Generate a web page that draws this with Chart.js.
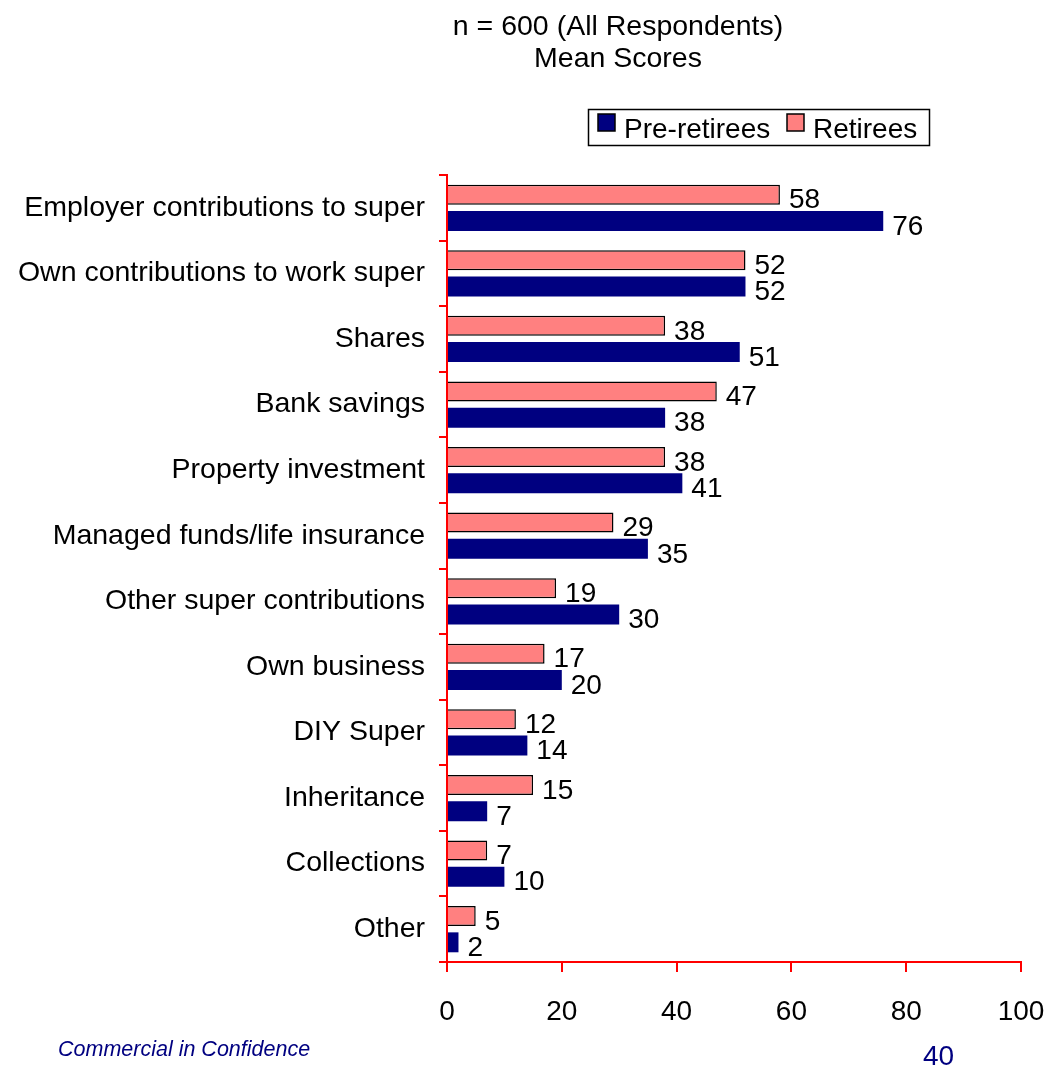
<!DOCTYPE html>
<html>
<head>
<meta charset="utf-8">
<script src="https://cdn.jsdelivr.net/npm/chart.js@4/dist/chart.umd.min.js"></script>
<style>
  html, body { margin: 0; padding: 0; background: #ffffff; }
  #wrap { width: 1046px; height: 1069px; position: relative; }
</style>
</head>
<body>
<div id="wrap"><canvas id="chart" width="1046" height="1069"></canvas></div>
<script>
// Investment sources, mean scores by respondent group
const categories = [
  'Employer contributions to super',
  'Own contributions to work super',
  'Shares',
  'Bank savings',
  'Property investment',
  'Managed funds/life insurance',
  'Other super contributions',
  'Own business',
  'DIY Super',
  'Inheritance',
  'Collections',
  'Other'
];
const preRetirees = [76, 52, 51, 38, 41, 35, 30, 20, 14, 7, 10, 2];
const retirees    = [58, 52, 38, 47, 38, 29, 19, 17, 12, 15, 7, 5];
const xTicks = [0, 20, 40, 60, 80, 100];
const titleLines = ['n = 600 (All Respondents)', 'Mean Scores'];
const footerText = 'Commercial in Confidence';
const pageNumber = '40';

const FONT = "'Liberation Sans', Arial, Helvetica, sans-serif";
const NAVY = '#000080';
const PINK = '#FF8080';
const RED = '#FF0000';

// Value labels at the end of each bar
const valueLabels = {
  id: 'valueLabels',
  afterDatasetsDraw(chart) {
    const ctx = chart.ctx;
    ctx.save();
    ctx.font = '28px ' + FONT;
    ctx.fillStyle = '#000000';
    ctx.textAlign = 'left';
    ctx.textBaseline = 'middle';
    chart.data.datasets.forEach((ds, di) => {
      const meta = chart.getDatasetMeta(di);
      meta.data.forEach((bar, i) => {
        ctx.fillText(String(ds.data[i]), bar.x + 9, bar.y + 6);
      });
    });
    ctx.restore();
  }
};

// Titles, boxed legend and footer
const decorations = {
  id: 'decorations',
  afterDraw(chart) {
    const ctx = chart.ctx;
    ctx.save();
    ctx.fillStyle = '#000000';
    ctx.font = '28.5px ' + FONT;
    ctx.textAlign = 'center';
    ctx.textBaseline = 'middle';
    ctx.fillText(titleLines[0], 618, 27);
    ctx.fillText(titleLines[1], 618, 59);

    // legend box
    ctx.lineWidth = 1.5;
    ctx.strokeStyle = '#000000';
    ctx.strokeRect(588.5, 109.5, 341, 36);
    const entries = [
      { label: chart.data.datasets[1].label, color: NAVY, x: 598 },
      { label: chart.data.datasets[0].label, color: PINK, x: 787 }
    ];
    ctx.font = '28px ' + FONT;
    ctx.textAlign = 'left';
    entries.forEach(e => {
      ctx.fillStyle = e.color;
      ctx.fillRect(e.x, 114, 17, 17);
      ctx.lineWidth = 1.5;
      ctx.strokeStyle = '#000000';
      ctx.strokeRect(e.x, 114, 17, 17);
      ctx.fillStyle = '#000000';
      ctx.fillText(e.label, e.x + 26, 130);
    });

    // footer
    ctx.fillStyle = NAVY;
    ctx.font = 'italic 21.5px ' + FONT;
    ctx.textAlign = 'left';
    ctx.fillText(footerText, 58, 1050);
    ctx.font = '28px ' + FONT;
    ctx.fillText(pageNumber, 923, 1057);
    ctx.restore();
  }
};

new Chart(document.getElementById('chart'), {
  type: 'bar',
  data: {
    labels: categories,
    datasets: [
      {
        label: 'Retirees',
        data: retirees,
        backgroundColor: PINK,
        borderColor: '#000000',
        borderWidth: 1.5,
        categoryPercentage: 0.8,
        barPercentage: 0.76
      },
      {
        label: 'Pre-retirees',
        data: preRetirees,
        backgroundColor: NAVY,
        borderColor: NAVY,
        borderWidth: 0,
        categoryPercentage: 0.8,
        barPercentage: 0.76
      }
    ]
  },
  options: {
    indexAxis: 'y',
    responsive: false,
    animation: false,
    layout: { padding: { top: 175, right: 25, bottom: 47, left: 0 } },
    plugins: {
      legend: { display: false },
      title: { display: false },
      tooltip: { enabled: false }
    },
    scales: {
      x: {
        min: 0,
        max: 100,
        afterBuildTicks(scale) { scale.ticks = xTicks.map(v => ({ value: v })); },
        afterFit(scale) {
          scale.height = 60;
          scale.paddingLeft = 0;
          scale.paddingRight = 0;
        },
        border: { display: true, color: RED, width: 2 },
        grid: { display: true, drawOnChartArea: false, drawTicks: true, tickLength: 10, color: RED, lineWidth: 2 },
        ticks: { color: '#000000', font: { family: FONT, size: 28 }, padding: 23 }
      },
      y: {
        afterFit(scale) { scale.width = 447; },
        border: { display: true, color: RED, width: 2 },
        grid: { display: true, offset: true, drawOnChartArea: false, drawTicks: true, tickLength: 8, color: RED, lineWidth: 2 },
        ticks: { color: '#000000', font: { family: FONT, size: 28.5 }, padding: 14 }
      }
    }
  },
  plugins: [valueLabels, decorations]
});
</script>
</body>
</html>
